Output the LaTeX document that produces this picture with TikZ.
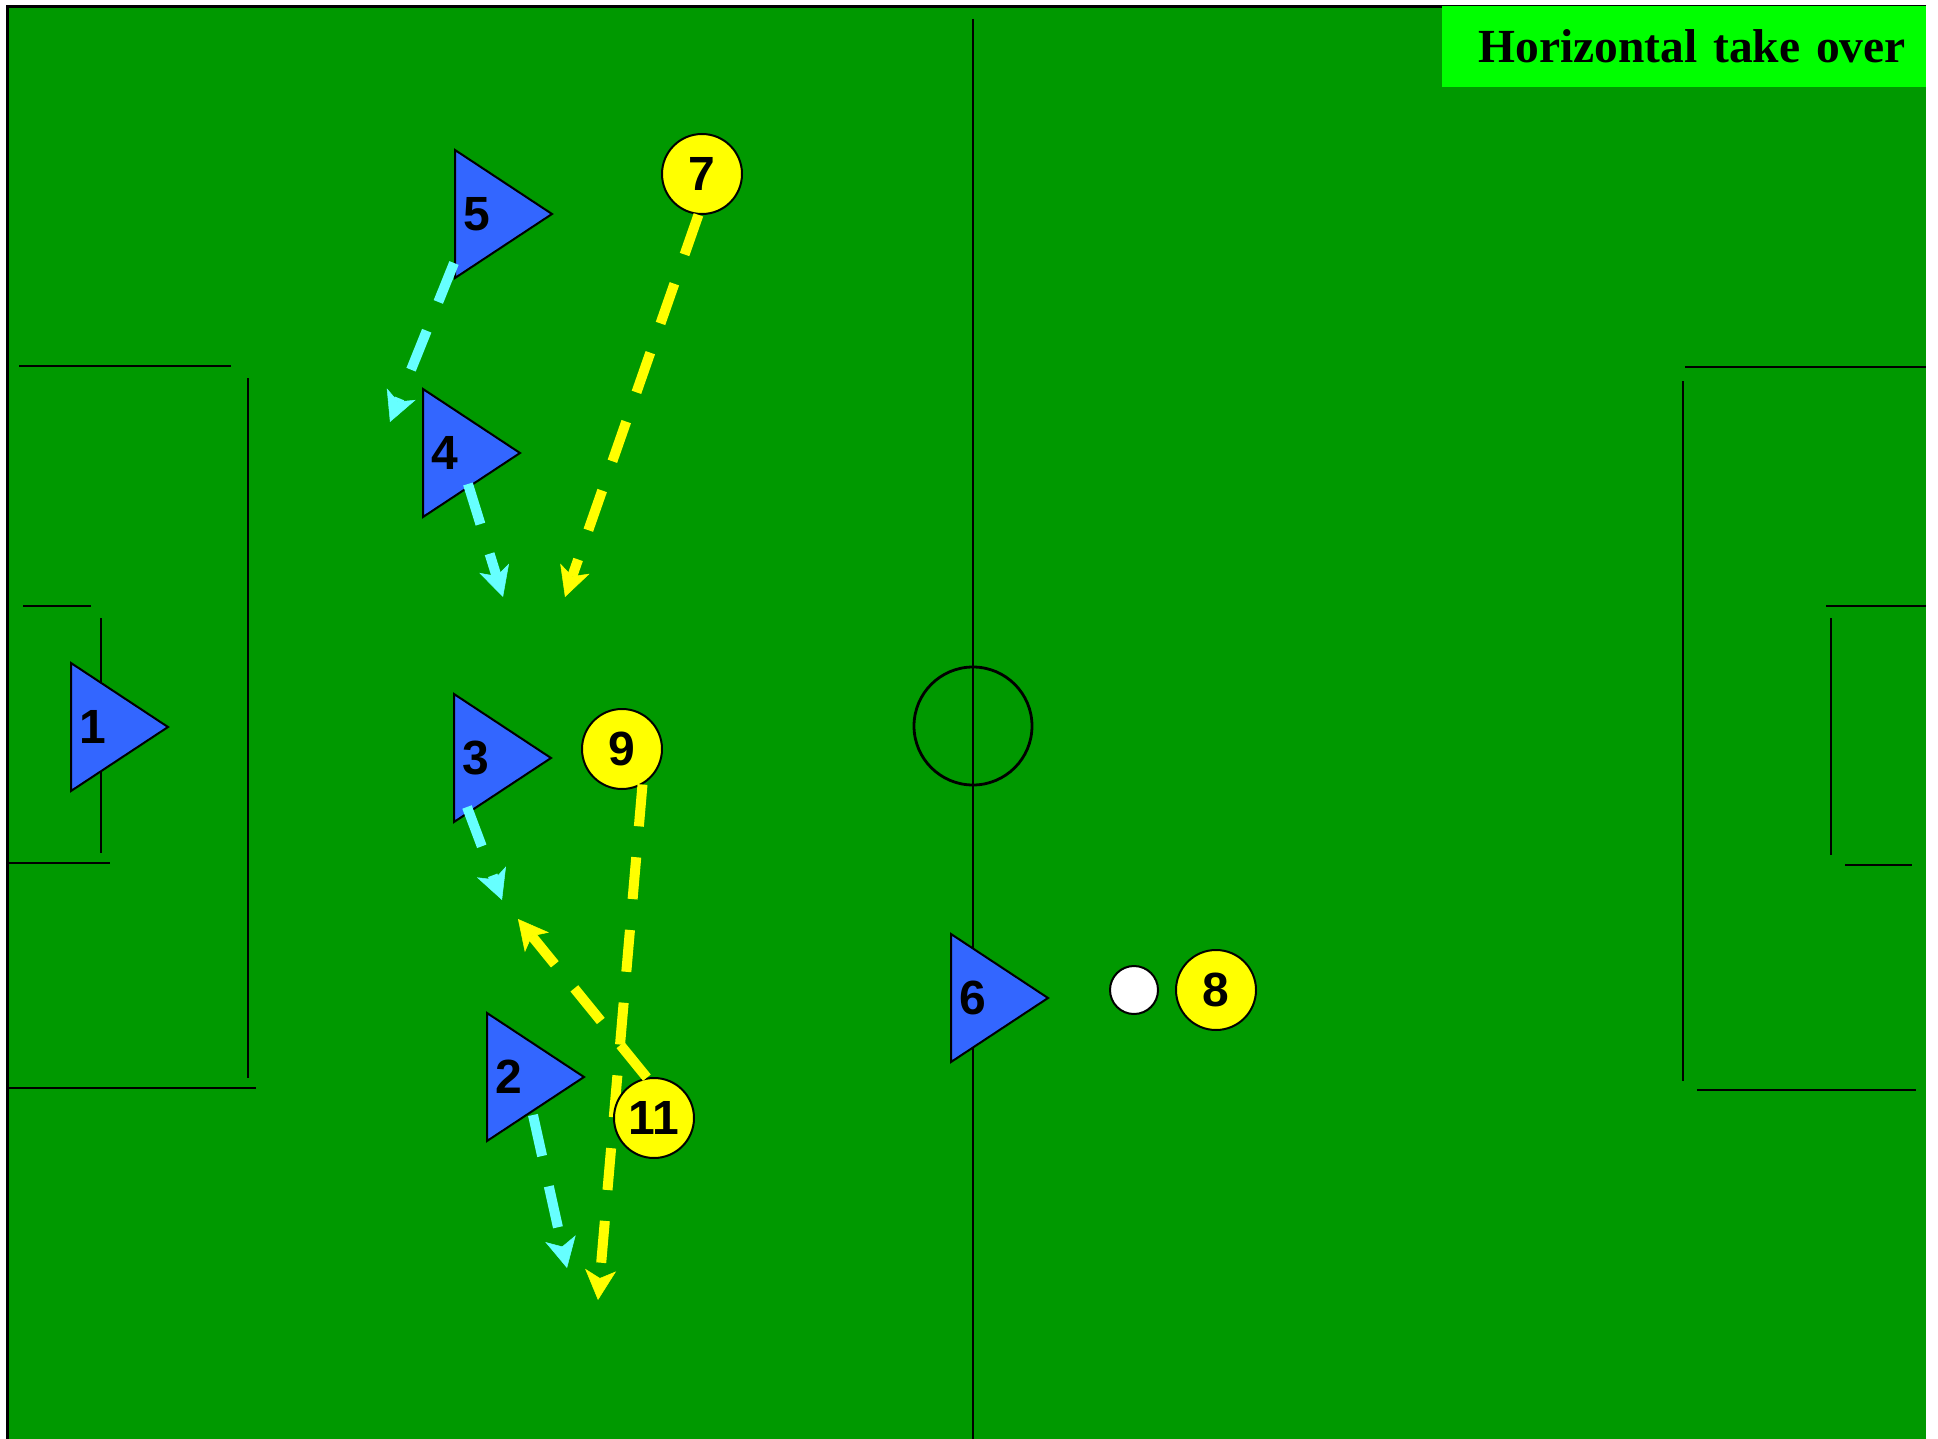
\documentclass[tikz,border=0pt]{standalone}
\usepackage{fontspec}
\setmainfont{Liberation Serif}
\newfontfamily\numfont{Liberation Sans}
\usetikzlibrary{shapes.geometric, arrows.meta, positioning, calc}

\definecolor{pitch}{RGB}{0,153,0}
\definecolor{titlegreen}{RGB}{0,255,0}
\definecolor{teamblue}{RGB}{51,102,255}
\definecolor{teamyellow}{RGB}{255,255,0}
\definecolor{runcyan}{RGB}{102,255,255}

\begin{document}
\begin{tikzpicture}[
    x=1pt, y=-1pt,
    mark line/.style={draw=black, line width=2.8pt},
    title box/.style={fill=titlegreen, minimum height=81pt, text width=444pt, inner xsep=20pt, inner ysep=0pt, align=right, font=\bfseries\fontsize{47.5}{50}\selectfont},
    blue player/.style={isosceles triangle, isosceles triangle stretches, draw=black, line width=2pt, fill=teamblue, minimum width=128pt, minimum height=97pt, inner sep=0pt, anchor=lower side},
    yellow player/.style={circle, draw=black, line width=2pt, fill=teamyellow, minimum size=80pt, inner sep=0pt, font=\numfont\bfseries\fontsize{48}{48}\selectfont},
    number/.style={inner sep=0pt, font=\numfont\bfseries\fontsize{48}{48}\selectfont},
    ball/.style={circle, draw=black, line width=2pt, fill=white, minimum size=48pt, inner sep=0pt},
    run/.style={line width=10pt, dash pattern=on 42pt off 31pt, -{Stealth[length=30pt, width=31pt, inset=8pt, line width=0.5pt]}}
]

% pitch
\useasboundingbox (0,0) rectangle (1938,1439);
\fill[white] (0,0) rectangle (1938,1439);
\fill[pitch] (7,7) rectangle (1926,1439);
\draw[line width=3pt] (7,1439) -- (7,7) -- (1926,7);

% markings
\draw[mark line] (973,19) -- (973,1439);
\draw[mark line] (973,726) circle[radius=59pt];
\draw[mark line] (19,366) -- (231,366);
\draw[mark line] (248,378) -- (248,1078);
\draw[mark line] (7,1088) -- (256,1088);
\draw[mark line] (23,606) -- (91,606);
\draw[mark line] (101,618) -- (101,853);
\draw[mark line] (7,863) -- (110,863);
\draw[mark line] (1685,367) -- (1926,367);
\draw[mark line] (1683,381) -- (1683,1081);
\draw[mark line] (1697,1090) -- (1916,1090);
\draw[mark line] (1826,606) -- (1926,606);
\draw[mark line] (1831,618) -- (1831,855);
\draw[mark line] (1845,865) -- (1912,865);

\node[title box, anchor=north east] (title) at (1926,6) {Horizontal take over};

% blue team
\node[blue player] (p1) at (70,727) {};
\node[blue player] (p2) at (486,1077) {};
\node[blue player] (p3) at (453,758) {};
\node[blue player] (p4) at (422,453) {};
\node[blue player] (p5) at (454,214) {};
\node[blue player] (p6) at (950,998) {};
\foreach \n in {1,...,6}
    \node[number] (n\n) at ([xshift=23pt]p\n.lower side) {\n};

% yellow team and ball
\node[yellow player] (p7) at (702,174) {7};
\node[yellow player] (p9) at (622,749) {9};
\node[ball] (ball) at (1134,990) {};
\node[yellow player, right=16pt of ball] (p8) {8};

\coordinate (c5) at (390,422);
\coordinate (c4) at (503,597);
\coordinate (c3) at (502,900);
\coordinate (c2) at (567,1268);
\coordinate (y7) at (565,597);
\coordinate (y9) at (598,1300);
\coordinate (y11) at (518,919);

\draw[run, runcyan] ([shift={(0,49)}]p5.lower side) -- (c5);
\draw[run, runcyan] ([shift={(46,31)}]p4.lower side) -- (c4);
\draw[run, runcyan] ([shift={(14,49)}]p3.lower side) -- (c3);
\draw[run, runcyan] ([shift={(47,38)}]p2.lower side) -- (c2);
\draw[run, teamyellow] (p7.265) -- (y7);
\draw[run, teamyellow] (p9.300) -- (y9);

\node[yellow player] (p11) at (654,1118) {11};
\draw[run, teamyellow] (p11.100) -- (y11);
\end{tikzpicture}
\end{document}
